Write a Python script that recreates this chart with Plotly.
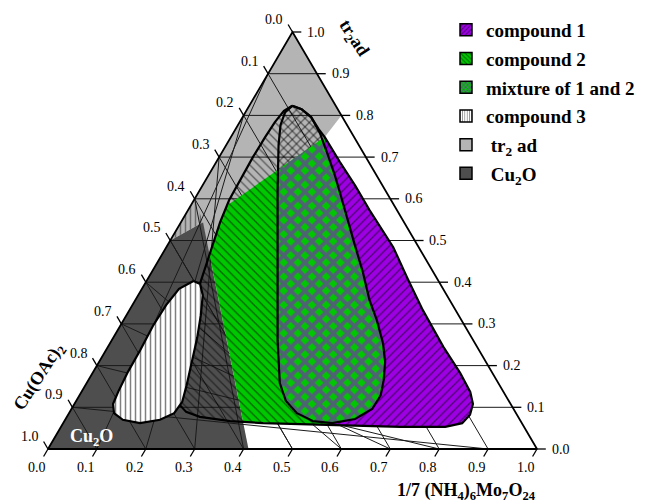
import numpy as np
import plotly.graph_objects as go

H = np.sqrt(3) / 2

# ---- data (ternary fractions: mo = 1/7 (NH4)6Mo7O24, tr = tr2ad; Cu(OAc)2 = 1 - mo - tr) ----
ticks = [round(0.1 * i, 1) for i in range(11)]
tick_labels = ["%.1f" % t for t in ticks]

outer_mo = [0.088, 0.111, 0.140, 0.170, 0.192, 0.253, 0.313, 0.371, 0.464, 0.528, 0.600, 0.686,
            0.752, 0.795, 0.815, 0.822, 0.816, 0.786, 0.694, 0.548, 0.409, 0.339, 0.272, 0.238,
            0.211, 0.193, 0.175, 0.156, 0.132, 0.116, 0.104, 0.093, 0.080, 0.072, 0.070, 0.069,
            0.070, 0.072, 0.077]
outer_tr = [0.823, 0.815, 0.796, 0.767, 0.748, 0.688, 0.631, 0.573, 0.484, 0.412, 0.333, 0.245,
            0.182, 0.137, 0.108, 0.082, 0.062, 0.053, 0.053, 0.058, 0.062, 0.067, 0.077, 0.089,
            0.110, 0.141, 0.189, 0.249, 0.321, 0.381, 0.434, 0.484, 0.544, 0.597, 0.645, 0.700,
            0.748, 0.784, 0.811]

mix_mo = [0.088, 0.111, 0.140, 0.177, 0.220, 0.258, 0.294, 0.338, 0.383, 0.432, 0.479, 0.518,
          0.558, 0.585, 0.604, 0.616, 0.615, 0.592, 0.550, 0.508, 0.466, 0.429, 0.395, 0.339,
          0.243, 0.159, 0.107, 0.087, 0.081]
mix_tr = [0.823, 0.815, 0.796, 0.758, 0.705, 0.657, 0.609, 0.549, 0.489, 0.424, 0.357, 0.309,
          0.254, 0.209, 0.165, 0.129, 0.096, 0.072, 0.062, 0.067, 0.086, 0.115, 0.158, 0.261,
          0.453, 0.621, 0.729, 0.777, 0.808]

c3_mo = [0.096, 0.113, 0.132, 0.152, 0.172, 0.190, 0.207, 0.218, 0.215, 0.194, 0.157, 0.118,
         0.092, 0.079, 0.075, 0.071, 0.070, 0.067, 0.069, 0.076]
c3_tr = [0.403, 0.396, 0.369, 0.321, 0.266, 0.209, 0.153, 0.113, 0.086, 0.070, 0.062, 0.070,
         0.086, 0.108, 0.137, 0.185, 0.237, 0.295, 0.345, 0.384]

# phase-field corner points (mo, tr)
tr2ad_mo = [0.0, 0.20, 0.192, 0.112, 0.0]
tr2ad_tr = [1.0, 0.80, 0.748, 0.417, 0.5]
cu2o_mo = [0.0, 0.0, 0.045, 0.41]
cu2o_tr = [0.0, 0.5, 0.544, 0.0]
strip_mo = [0.0, 0.0, 0.045]
strip_tr = [0.6, 0.5, 0.544]
green_top_mo = [0.045, 0.192]     # line D1 -> P
green_top_tr = [0.544, 0.748]
green_left_mo = [0.045, 0.41]     # line D1 -> B1
green_left_tr = [0.544, 0.0]
purple_left_mo = [0.192, 0.549]   # line P -> Q
purple_left_tr = [0.748, 0.055]

legend_names = ["compound 1", "compound 2", "mixture of 1 and 2", "compound 3",
                " tr<sub>2</sub> ad", " Cu<sub>2</sub>O"]

PURPLE = "#9d00e3"
GREEN = "#00c800"
LGRAY = "#b4b4b4"
DGRAY = "#4e4e4e"

# page offset (browser body margin) and figure size
OFF = 8
W, HGT = 654 - OFF, 503 - OFF


def px(x):
    return (x - OFF) / W


def py(y):
    return 1 - (y - OFF) / HGT


def to_xy(mo, tr):
    mo = np.asarray(mo, float)
    tr = np.asarray(tr, float)
    return mo + tr / 2, tr * H


def pts(mo, tr):
    x, y = to_xy(mo, tr)
    return list(zip(x, y))


def clip(poly, p1, p2, sign):
    def side(p):
        return sign * ((p2[0] - p1[0]) * (p[1] - p1[1]) - (p2[1] - p1[1]) * (p[0] - p1[0]))

    def inter(p, q, sp, sq):
        t = sp / (sp - sq)
        return (p[0] + t * (q[0] - p[0]), p[1] + t * (q[1] - p[1]))

    out = []
    n = len(poly)
    for i in range(n):
        cur, prev = poly[i], poly[i - 1]
        sc, sp = side(cur), side(prev)
        if sc >= 0:
            if sp < 0:
                out.append(inter(prev, cur, sp, sc))
            out.append(cur)
        elif sp >= 0:
            out.append(inter(prev, cur, sp, sc))
    return out


def poly_trace(poly, fillcolor, pattern=None, line=None):
    xs = [p[0] for p in poly] + [poly[0][0]]
    ys = [p[1] for p in poly] + [poly[0][1]]
    kw = dict(x=xs, y=ys, mode="lines", fill="toself", fillcolor=fillcolor,
              hoverinfo="skip", showlegend=False)
    if line is None:
        kw["line"] = dict(width=0, color="rgba(0,0,0,0)")
    else:
        kw["line"] = line
    if pattern is not None:
        kw["fillpattern"] = pattern
    return go.Scatter(**kw)


fig = go.Figure()

outer = pts(outer_mo, outer_tr)
mix = pts(mix_mo, mix_tr)
c3 = pts(c3_mo, c3_tr)
gt = pts(green_top_mo, green_top_tr)
gl = pts(green_left_mo, green_left_tr)
pl = pts(purple_left_mo, purple_left_tr)

# background phase fields
fig.add_trace(poly_trace(pts(tr2ad_mo, tr2ad_tr), LGRAY))
fig.add_trace(poly_trace(pts(cu2o_mo, cu2o_tr), DGRAY))
fig.add_trace(poly_trace(pts(strip_mo, strip_tr), LGRAY,
                         dict(shape="|", fgcolor="#222222", size=5, solidity=0.3, fillmode="overlay")))

# grid lines
gx, gy = [], []
for t in ticks[1:-1]:
    for (m1, r1), (m2, r2) in [((0, t), (1 - t, t)),          # const tr2ad
                               ((t, 0), (0, 1 - t)),          # const mo
                               ((0, 1 - t), (1 - t, 0))]:     # const Cu
        x, y = to_xy([m1, m2], [r1, r2])
        gx += list(x) + [None]
        gy += list(y) + [None]
fig.add_trace(go.Scatter(x=gx, y=gy, mode="lines", line=dict(color="#1a1a1a", width=1.0),
                         hoverinfo="skip", showlegend=False))

# compound 2 (green)
green = clip(clip(outer, gt[0], gt[1], -1), gl[0], gl[1], 1)
fig.add_trace(poly_trace(green, GREEN))
# hatch of the big field
fig.add_trace(poly_trace(outer, "rgba(0,0,0,0)",
                         dict(shape="\\", fgcolor="black", size=6, solidity=0.22, fillmode="overlay")))
# compound 1 (purple)
purple = clip(outer, pl[0], pl[1], 1)
fig.add_trace(poly_trace(purple, PURPLE,
                         dict(shape="/", fgcolor="black", size=6, solidity=0.22, fillmode="overlay")))
# mixture
mix_low = clip(mix, gt[0], gt[1], -1)
mix_up = clip(mix, gt[0], gt[1], 1)
fig.add_trace(poly_trace(mix_low, GREEN,
                         dict(shape="x", fgcolor=PURPLE, size=10, solidity=0.62, fillmode="overlay")))
fig.add_trace(poly_trace(mix_up, "rgba(0,0,0,0)",
                         dict(shape="/", fgcolor="black", size=6, solidity=0.22, fillmode="overlay")))
# outlines
for poly in (outer, mix):
    fig.add_trace(poly_trace(poly, "rgba(0,0,0,0)", line=dict(color="black", width=2.2)))
# compound 3
fig.add_trace(poly_trace(c3, "white",
                         dict(shape="|", fgcolor="black", size=5, solidity=0.3, fillmode="overlay"),
                         line=dict(color="black", width=2.2)))

# triangle frame
fx, fy = to_xy([0, 1, 0, 0], [0, 0, 1, 0])
fig.add_trace(go.Scatter(x=fx, y=fy, mode="lines", line=dict(color="black", width=1.8),
                         hoverinfo="skip", showlegend=False))

# ticks
e = 0.018
tx, ty = [], []
for t in ticks:
    for (m1, r1), (m2, r2) in [((0, 1 - t), (-e, 1 - t + e)),        # left (Cu)
                               ((t, 0), (t, -e)),                    # bottom (Mo)
                               ((1 - t, t), (1 - t + e, t))]:        # right (tr2ad)
        x, y = to_xy([m1, m2], [r1, r2])
        tx += list(x) + [None]
        ty += list(y) + [None]
fig.add_trace(go.Scatter(x=tx, y=ty, mode="lines", line=dict(color="black", width=1.3),
                         hoverinfo="skip", showlegend=False))

annotations = []
tfont = dict(family="Liberation Serif", size=14, color="black")
for t, lab in zip(ticks, tick_labels):
    x, y = to_xy(-0.03, 1 - t + 0.03)
    annotations.append(dict(x=float(x), y=float(y), text=lab, showarrow=False,
                            xanchor="right", yanchor="middle", font=tfont))
    x, y = to_xy(t, -0.045)
    annotations.append(dict(x=float(x), y=float(y), text=lab, showarrow=False,
                            xanchor="center", yanchor="middle", font=tfont))
    x, y = to_xy(1 - t + 0.026, t)
    annotations.append(dict(x=float(x), y=float(y), text=lab, showarrow=False,
                            xanchor="left", yanchor="middle", font=tfont))

bfont = dict(family="Liberation Serif", size=18, color="black")
annotations += [
    dict(xref="paper", yref="paper", x=px(353), y=py(39), text="<b>tr<sub>2</sub>ad</b>",
         textangle=57, showarrow=False, font=bfont, xanchor="center", yanchor="middle"),
    dict(xref="paper", yref="paper", x=px(39), y=py(377), text="<b>Cu(OAc)<sub>2</sub></b>",
         textangle=-57, showarrow=False, font=bfont, xanchor="center", yanchor="middle"),
    dict(xref="paper", yref="paper", x=px(466), y=py(491),
         text="<b>1/7 (NH<sub>4</sub>)<sub>6</sub>Mo<sub>7</sub>O<sub>24</sub></b>",
         showarrow=False, font=bfont, xanchor="center", yanchor="middle"),
    dict(xref="paper", yref="paper", x=px(91), y=py(437), text="<b>Cu<sub>2</sub>O</b>",
         showarrow=False, font=dict(family="Liberation Serif", size=18, color="white"),
         xanchor="center", yanchor="middle"),
]

# legend entries
leg_styles = [
    dict(color=PURPLE, pattern=dict(shape="/", fgcolor="black", size=4, solidity=0.3, fillmode="overlay")),
    dict(color=GREEN, pattern=dict(shape="\\", fgcolor="black", size=4, solidity=0.3, fillmode="overlay")),
    dict(color=GREEN, pattern=dict(shape="x", fgcolor=PURPLE, size=4, solidity=0.5, fillmode="overlay")),
    dict(color="white", pattern=dict(shape="|", fgcolor="black", size=3, solidity=0.3, fillmode="overlay")),
    dict(color=LGRAY),
    dict(color=DGRAY),
]
for i, (name, st) in enumerate(zip(legend_names, leg_styles)):
    fig.add_trace(go.Bar(x=[None], y=[None], name=name, legendgroup="g%d" % i,
                         marker=dict(line=dict(color="black", width=1.5), **st)))

# data-coordinate mapping: x=0 at page px 48, x=1 at 537; tr=0 at page py 449, tr=1 at 32
xs0, xs1 = 48 - OFF, 537 - OFF
yb, yt = 449 - OFF, 32 - OFF
kx = (xs1 - xs0)
ky = (yb - yt) / H
fig.update_layout(
    width=W, height=HGT,
    margin=dict(l=0, r=0, t=0, b=0),
    paper_bgcolor="white", plot_bgcolor="white",
    xaxis=dict(visible=False, range=[-xs0 / kx, (W - xs0) / kx], type="linear", fixedrange=True),
    yaxis=dict(visible=False, range=[-(HGT - yb) / ky, yb / ky], type="linear", fixedrange=True),
    annotations=annotations,
    showlegend=True,
    legend=dict(x=px(446), y=py(11), xanchor="left", yanchor="top", tracegroupgap=1,
                bgcolor="rgba(0,0,0,0)",
                font=dict(family="Liberation Serif", size=19, color="black", weight="bold")),
)

fig.write_html("out.html")
